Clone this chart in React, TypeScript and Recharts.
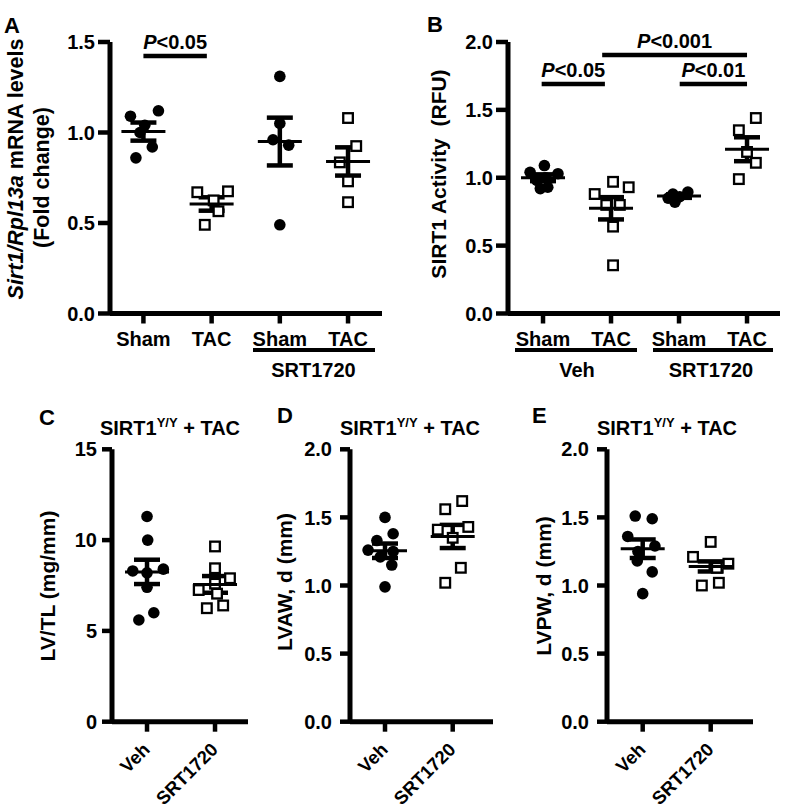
import React from 'react';
import { ScatterChart, Scatter, XAxis, YAxis, ErrorBar, ReferenceLine } from 'recharts';

const FONT = '"Liberation Sans", Arial, Helvetica, sans-serif';

// ---------------- Panel A : Sirt1/Rpl13a mRNA ----------------
const A_CATEGORIES = ['Sham', 'TAC', 'Sham', 'TAC'];
const A_VEH_SHAM = [1.09, 1.12, 1.04, 1.0, 0.92, 0.86];
const A_VEH_TAC = [0.67, 0.675, 0.49, 0.565, 0.625];
const A_SRT_SHAM = [1.31, 1.05, 0.96, 0.93, 0.49];
const A_SRT_TAC = [1.08, 0.925, 0.835, 0.73, 0.615];
const A_MEANS = [1.005, 0.605, 0.95, 0.84];
const A_SEMS = [0.05, 0.037, 0.132, 0.078];
const A_BRACKETS = [{ from: 0, to: 0.93, y: 1.423, label: 'P<0.05' }];

// ---------------- Panel B : SIRT1 activity ----------------
const B_CATEGORIES = ['Sham', 'TAC', 'Sham', 'TAC'];
const B_VEH_SHAM = [1.09, 1.04, 1.03, 0.98, 0.93, 0.92, 1.0];
const B_VEH_TAC = [0.97, 0.88, 0.93, 0.8, 0.8, 0.64, 0.355];
const B_SRT_SHAM = [0.88, 0.895, 0.86, 0.85, 0.82];
const B_SRT_TAC = [1.44, 1.35, 1.19, 1.11, 0.99];
const B_MEANS = [1.0, 0.775, 0.865, 1.21];
const B_SEMS = [0.025, 0.082, 0.013, 0.088];
const B_BRACKETS = [
  { from: -0.02, to: 0.91, y: 1.69, label: 'P<0.05' },
  { from: 2.01, to: 3.0, y: 1.69, label: 'P<0.01' },
  { from: 0.87, to: 3.0, y: 1.904, label: 'P<0.001' },
];

// ---------------- Panels C, D, E : SIRT1 Y/Y + TAC ----------------
const CDE_CATEGORIES = ['Veh', 'SRT1720'];
const C_VEH = [11.3, 10.0, 8.4, 8.3, 8.2, 7.4, 6.0, 5.6];
const C_SRT = [9.65, 8.45, 7.9, 7.6, 7.25, 7.05, 6.4, 6.25];
const C_MEANS = [8.25, 7.56];
const C_SEMS = [0.67, 0.46];

const D_VEH = [1.5, 1.38, 1.33, 1.26, 1.25, 1.21, 1.15, 0.99];
const D_SRT = [1.62, 1.56, 1.43, 1.41, 1.35, 1.13, 1.02];
const D_MEANS = [1.255, 1.36];
const D_SEMS = [0.053, 0.085];

const E_VEH = [1.51, 1.49, 1.36, 1.29, 1.25, 1.18, 1.1, 0.94];
const E_SRT = [1.32, 1.21, 1.16, 1.13, 1.02, 1.0];
const E_MEANS = [1.27, 1.14];
const E_SEMS = [0.068, 0.037];

// ---------------- layout: horizontal scatter jitter (category units) ----------------
const J_A = [
  [-0.19, 0.22, 0.02, -0.05, 0.13, -0.11],
  [-0.21, 0.24, -0.1, 0.1, 0.03],
  [0, 0, -0.1, 0.13, 0],
  [0, 0.12, -0.12, 0, 0],
];
const J_B = [
  [0.02, -0.19, 0.22, -0.09, 0.07, -0.04, 0.04],
  [0.03, -0.24, 0.26, -0.07, 0.13, 0.03, 0.03],
  [-0.09, 0.13, 0.01, -0.16, -0.06],
  [0.13, -0.12, 0, 0.13, -0.12],
];
const J_C = [
  [0, 0.01, 0.24, -0.21, 0, 0, 0.1, -0.12],
  [0, 0, 0.22, 0, -0.24, 0.03, 0.12, -0.12],
];
const J_D = [
  [0, 0.12, -0.12, -0.25, 0.12, -0.07, 0.1, 0],
  [0.14, -0.11, 0.23, -0.22, 0, 0.12, -0.11],
];
const J_E = [
  [-0.11, 0.14, -0.22, 0.18, -0.07, -0.08, 0.14, 0],
  [0, -0.26, 0.26, 0.09, 0.12, -0.13],
];

type Marker = 'dot' | 'square';
type Group = { values: number[]; jitter: number[]; marker: Marker };
type Bracket = { from: number; to: number; y: number; label: string };

const Dot = (p: any) => {
  const cx = p.cx ?? p.x + (p.width || 0) / 2;
  const cy = p.cy ?? p.y + (p.height || 0) / 2;
  return <circle cx={cx} cy={cy} r={5.8} fill="#000" />;
};
const Square = (p: any) => {
  const cx = p.cx ?? p.x + (p.width || 0) / 2;
  const cy = p.cy ?? p.y + (p.height || 0) / 2;
  return <rect x={cx - 4.8} y={cy - 4.8} width={9.6} height={9.6} fill="#fff" stroke="#000" strokeWidth={2.3} />;
};
const MeanLine = (p: any) => {
  const cx = p.cx ?? p.x + (p.width || 0) / 2;
  const cy = p.cy ?? p.y + (p.height || 0) / 2;
  return <line x1={cx - 22} x2={cx + 22} y1={cy} y2={cy} stroke="#000" strokeWidth={3} />;
};

const BracketLabel = (text: string) => (props: any) => {
  const vb = props.viewBox;
  if (!vb) return null;
  const x = vb.x + (vb.width || 0) / 2;
  const y = vb.y - 7;
  return (
    <text x={x} y={y} textAnchor="middle" fontFamily={FONT} fontSize={20} fontWeight={700} fill="#000">
      <tspan fontStyle="italic">{text.charAt(0)}</tspan>
      <tspan>{text.slice(1)}</tspan>
    </text>
  );
};

const makeRotTick = (cats: string[]) => (p: any) => {
  const ax = p.x + 4;
  const ay = p.y + 19;
  return (
    <text x={ax} y={ay} textAnchor="end" transform={`rotate(-45, ${ax}, ${ay})`} fontFamily={FONT} fontSize={18.5} fontWeight={700} fill="#000">
      {cats[Math.round(p.payload.value)]}
    </text>
  );
};

type PanelProps = {
  left: number; top: number; width: number; height: number;
  margin: { top: number; right: number; bottom: number; left: number };
  yWidth: number; yTickMargin: number; yTickSize: number;
  xDomain: [number, number]; yDomain: [number, number]; yTicks: number[]; yDecimals: number;
  categories: string[]; groups: Group[]; means: number[]; sems: number[];
  brackets?: Bracket[]; rotated?: boolean; xAxisHeight: number;
};

function Panel(props: PanelProps) {
  const { categories, groups, means, sems } = props;
  const tickStyle = { fill: '#000', fontSize: 20, fontWeight: 700, fontFamily: FONT };
  const meanData = means.map((m, i) => ({ x: i, y: m, err: sems[i] }));
  return (
    <div style={{ position: 'absolute', left: props.left, top: props.top }}>
      <ScatterChart width={props.width} height={props.height} margin={props.margin} style={{ overflow: 'visible' }}>
        <XAxis
          type="number"
          dataKey="x"
          domain={props.xDomain}
          ticks={categories.map((_, i) => i)}
          interval={0}
          allowDataOverflow
          height={props.xAxisHeight}
          tickSize={10}
          tickMargin={props.rotated ? 0 : 8}
          axisLine={{ stroke: '#000', strokeWidth: 5 }}
          tickLine={{ stroke: '#000', strokeWidth: 4.5 }}
          tick={props.rotated ? makeRotTick(categories) : tickStyle}
          tickFormatter={(v: number) => categories[Math.round(v)]}
        />
        <YAxis
          type="number"
          dataKey="y"
          domain={props.yDomain}
          ticks={props.yTicks}
          interval={0}
          allowDataOverflow
          width={props.yWidth}
          tickSize={props.yTickSize}
          tickMargin={props.yTickMargin}
          axisLine={{ stroke: '#000', strokeWidth: 5 }}
          tickLine={{ stroke: '#000', strokeWidth: 4.5 }}
          tick={tickStyle}
          tickFormatter={(v: number) => v.toFixed(props.yDecimals)}
        />
        {(props.brackets || []).map((b, i) => (
          <ReferenceLine
            key={'br' + i}
            segment={[{ x: b.from, y: b.y }, { x: b.to, y: b.y }]}
            stroke="#000"
            strokeWidth={4.5}
            ifOverflow="visible"
            label={BracketLabel(b.label)}
          />
        ))}
        {groups.map((g, gi) => (
          <Scatter
            key={'g' + gi}
            data={g.values.map((v, i) => ({ x: gi + g.jitter[i], y: v }))}
            dataKey="y"
            shape={g.marker === 'dot' ? Dot : Square}
            isAnimationActive={false}
          />
        ))}
        <Scatter data={meanData} dataKey="y" shape={MeanLine} isAnimationActive={false}>
          <ErrorBar dataKey="err" direction="y" width={13} strokeWidth={4.5} stroke="#000" isAnimationActive={false} />
        </Scatter>
      </ScatterChart>
    </div>
  );
}

const txt = { fontFamily: FONT, fontWeight: 700, fill: '#000' } as const;

function RotLabel({ x, y, size, children }: { x: number; y: number; size: number; children: React.ReactNode }) {
  return (
    <text x={x} y={y} transform={`rotate(-90, ${x}, ${y})`} textAnchor="middle" dominantBaseline="central" fontSize={size} {...txt}>
      {children}
    </text>
  );
}

function Title({ x }: { x: number }) {
  return (
    <text x={x} y={435} textAnchor="middle" fontSize={20} {...txt}>
      SIRT1
      <tspan dy={-8} fontSize={13}>Y/Y</tspan>
      <tspan dy={8}> + TAC</tspan>
    </text>
  );
}

export default function App() {
  const A_GROUPS: Group[] = [
    { values: A_VEH_SHAM, jitter: J_A[0], marker: 'dot' },
    { values: A_VEH_TAC, jitter: J_A[1], marker: 'square' },
    { values: A_SRT_SHAM, jitter: J_A[2], marker: 'dot' },
    { values: A_SRT_TAC, jitter: J_A[3], marker: 'square' },
  ];
  const B_GROUPS: Group[] = [
    { values: B_VEH_SHAM, jitter: J_B[0], marker: 'dot' },
    { values: B_VEH_TAC, jitter: J_B[1], marker: 'square' },
    { values: B_SRT_SHAM, jitter: J_B[2], marker: 'dot' },
    { values: B_SRT_TAC, jitter: J_B[3], marker: 'square' },
  ];
  const C_GROUPS: Group[] = [
    { values: C_VEH, jitter: J_C[0], marker: 'dot' },
    { values: C_SRT, jitter: J_C[1], marker: 'square' },
  ];
  const D_GROUPS: Group[] = [
    { values: D_VEH, jitter: J_D[0], marker: 'dot' },
    { values: D_SRT, jitter: J_D[1], marker: 'square' },
  ];
  const E_GROUPS: Group[] = [
    { values: E_VEH, jitter: J_E[0], marker: 'dot' },
    { values: E_SRT, jitter: J_E[1], marker: 'square' },
  ];

  return (
    <div style={{ position: 'absolute', left: 0, top: 0, width: 785, height: 812, background: '#fff', overflow: 'hidden' }}>
      <Panel
        left={0} top={0} width={400} height={410}
        margin={{ top: 42, right: 18, bottom: 56.5, left: 50 }}
        yWidth={60} yTickSize={12} yTickMargin={3}
        xDomain={[-0.49, 3.498]} yDomain={[0, 1.5]} yTicks={[0, 0.5, 1, 1.5]} yDecimals={1}
        categories={A_CATEGORIES} groups={A_GROUPS} means={A_MEANS} sems={A_SEMS}
        brackets={A_BRACKETS} xAxisHeight={40}
      />
      <Panel
        left={390} top={0} width={395} height={410}
        margin={{ top: 42, right: 5, bottom: 56.5, left: 58 }}
        yWidth={60} yTickSize={12} yTickMargin={3}
        xDomain={[-0.515, 3.485]} yDomain={[0, 2]} yTicks={[0, 0.5, 1, 1.5, 2]} yDecimals={1}
        categories={B_CATEGORIES} groups={B_GROUPS} means={B_MEANS} sems={B_SEMS}
        brackets={B_BRACKETS} xAxisHeight={40}
      />
      <Panel
        left={0} top={410} width={265} height={402}
        margin={{ top: 39.3, right: 17, bottom: 30.3, left: 52 }}
        yWidth={60} yTickSize={10} yTickMargin={5}
        xDomain={[-0.515, 1.485]} yDomain={[0, 15]} yTicks={[0, 5, 10, 15]} yDecimals={0}
        categories={CDE_CATEGORIES} groups={C_GROUPS} means={C_MEANS} sems={C_SEMS}
        rotated xAxisHeight={60}
      />
      <Panel
        left={265} top={410} width={260} height={402}
        margin={{ top: 39.3, right: 32, bottom: 30.3, left: 25 }}
        yWidth={60} yTickSize={10} yTickMargin={8}
        xDomain={[-0.517, 1.595]} yDomain={[0, 2]} yTicks={[0, 0.5, 1, 1.5, 2]} yDecimals={1}
        categories={CDE_CATEGORIES} groups={D_GROUPS} means={D_MEANS} sems={D_SEMS}
        rotated xAxisHeight={60}
      />
      <Panel
        left={525} top={410} width={260} height={402}
        margin={{ top: 39.3, right: 32, bottom: 30.3, left: 22 }}
        yWidth={60} yTickSize={10} yTickMargin={8}
        xDomain={[-0.525, 1.622]} yDomain={[0, 2]} yTicks={[0, 0.5, 1, 1.5, 2]} yDecimals={1}
        categories={CDE_CATEGORIES} groups={E_GROUPS} means={E_MEANS} sems={E_SEMS}
        rotated xAxisHeight={60}
      />
      <svg width={785} height={812} style={{ position: 'absolute', left: 0, top: 0, pointerEvents: 'none' }}>
        {/* panel letters */}
        <text x={4} y={33} fontSize={22} {...txt}>A</text>
        <text x={427} y={32} fontSize={22} {...txt}>B</text>
        <text x={39} y={425} fontSize={22} {...txt}>C</text>
        <text x={277} y={423} fontSize={22} {...txt}>D</text>
        <text x={532} y={423} fontSize={22} {...txt}>E</text>

        {/* y-axis titles */}
        <RotLabel x={16} y={169} size={21.5}>
          <tspan fontStyle="italic">Sirt1/Rpl13a</tspan>
          <tspan> mRNA levels</tspan>
        </RotLabel>
        <RotLabel x={42} y={177.5} size={21.5}>(Fold change)</RotLabel>
        <RotLabel x={438} y={174} size={21}>{'SIRT1 Activity\u00A0\u00A0(RFU)'}</RotLabel>
        <RotLabel x={47} y={586} size={21}>LV/TL (mg/mm)</RotLabel>
        <RotLabel x={284} y={582} size={21}>LVAW, d (mm)</RotLabel>
        <RotLabel x={543} y={586} size={21}>LVPW, d (mm)</RotLabel>

        {/* group labels under x axes */}
        <line x1={253} x2={375} y1={350} y2={350} stroke="#000" strokeWidth={4} />
        <text x={313.5} y={377} textAnchor="middle" fontSize={20} {...txt}>SRT1720</text>
        <line x1={515} x2={637} y1={350} y2={350} stroke="#000" strokeWidth={4} />
        <line x1={653} x2={773} y1={350} y2={350} stroke="#000" strokeWidth={4} />
        <text x={577} y={377} textAnchor="middle" fontSize={20} {...txt}>Veh</text>
        <text x={711} y={377} textAnchor="middle" fontSize={20} {...txt}>SRT1720</text>

        {/* panel titles */}
        <Title x={170} />
        <Title x={410} />
        <Title x={667} />
      </svg>
    </div>
  );
}
